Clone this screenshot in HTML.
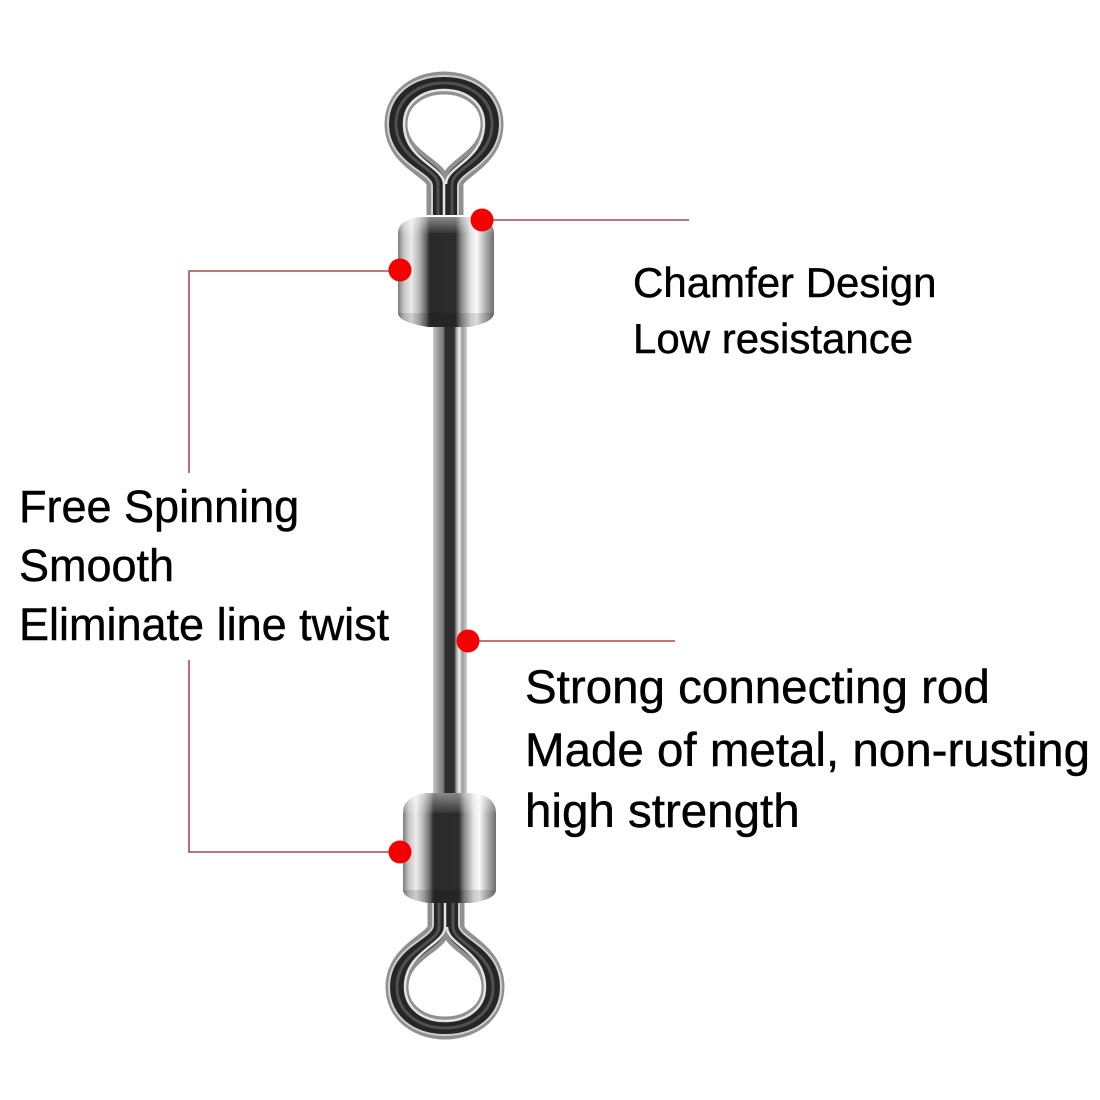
<!DOCTYPE html>
<html><head><meta charset="utf-8"><style>
html,body{margin:0;padding:0;background:#fff;}
svg{display:block;}
text{font-family:"Liberation Sans",Arial,sans-serif;fill:#000;stroke:#000;stroke-width:0.45;}
</style></head><body>
<svg width="1100" height="1100" viewBox="0 0 1100 1100" xmlns="http://www.w3.org/2000/svg">
<defs>
<linearGradient id="barrel" x1="0" y1="0" x2="1" y2="0">
<stop offset="0" stop-color="#7c7c7c"/>
<stop offset="0.06" stop-color="#c4c4c4"/>
<stop offset="0.14" stop-color="#ececec"/>
<stop offset="0.22" stop-color="#b4b4b4"/>
<stop offset="0.29" stop-color="#6a6a6a"/>
<stop offset="0.33" stop-color="#2a2a2a"/>
<stop offset="0.60" stop-color="#2c2c2c"/>
<stop offset="0.66" stop-color="#8a8a8a"/>
<stop offset="0.76" stop-color="#e6e6e6"/>
<stop offset="0.82" stop-color="#fafafa"/>
<stop offset="0.90" stop-color="#b8b8b8"/>
<stop offset="1" stop-color="#6e6e6e"/>
</linearGradient>
<linearGradient id="rod" x1="0" y1="0" x2="1" y2="0">
<stop offset="0" stop-color="#c8c8c8"/>
<stop offset="0.15" stop-color="#9a9a9a"/>
<stop offset="0.3" stop-color="#7a7a7a"/>
<stop offset="0.36" stop-color="#2e2e2e"/>
<stop offset="0.62" stop-color="#2e2e2e"/>
<stop offset="0.70" stop-color="#b0b0b0"/>
<stop offset="0.78" stop-color="#f0f0f0"/>
<stop offset="0.86" stop-color="#9a9a9a"/>
<stop offset="1" stop-color="#d0d0d0"/>
</linearGradient>
<linearGradient id="chamT" x1="0" y1="0" x2="0" y2="1">
<stop offset="0" stop-color="#fff" stop-opacity="0.45"/>
<stop offset="1" stop-color="#fff" stop-opacity="0.05"/>
</linearGradient>
<g id="loop">
<path d="M438 215 L438 184 C438 168 396 160 396 124 C396 98 419 83 444 83 C469 83 492 98 492 124 C492 160 452 168 452 184 L452 215" fill="none" stroke="#909090" stroke-width="23" stroke-linejoin="round"/>
<path d="M438 215 L438 184 C438 168 396 160 396 124 C396 98 419 83 444 83 C469 83 492 98 492 124 C492 160 452 168 452 184 L452 215" fill="none" stroke="#262626" stroke-width="14" stroke-linejoin="round"/>
<path d="M438 215 L438 184 C438 168 396 160 396 124 C396 98 419 83 444 83 C469 83 492 98 492 124 C492 160 452 168 452 184 L452 215" fill="none" stroke="#505050" stroke-width="3" stroke-linejoin="round"/>
<path d="M432 215 L432 186 C432 172 388 164 388 124 C388 94 413 76 444 76 C475 76 500 94 500 124 C500 164 458 172 458 186 L458 215" fill="none" stroke="#cfcfcf" stroke-width="2"/>
<path d="M444 215 L444 184 C444 166 404 160 404 124 C404 102 423 90 444 90 C465 90 484 102 484 124 C484 160 446 166 446 184" fill="none" stroke="#e4e4e4" stroke-width="2.5"/>
</g>
</defs>

<!-- rod -->
<rect x="433" y="318" width="34" height="486" fill="url(#rod)"/>

<!-- top loop -->
<use href="#loop"/>
<!-- top barrel -->
<path d="M420 217 L474 217 Q494 220 494 233 L494 313 Q494 322 470 327 L428 327 Q398 322 398 313 L398 233 Q398 220 420 217 Z" fill="url(#barrel)"/>
<path d="M420 217 L474 217 Q494 220 494 233 L398 233 Q398 220 420 217 Z" fill="url(#chamT)"/>
<path d="M398 313 L494 313 Q494 322 470 327 L428 327 Q398 322 398 313 Z" fill="#000" fill-opacity="0.12"/>

<!-- bottom loop (flipped) -->
<g transform="translate(1 1111) scale(1 -1)"><use href="#loop"/></g>
<!-- bottom barrel -->
<path d="M425 793 L475 793 Q496 797 496 813 L496 890 Q496 899 472 903 L428 903 Q403 899 403 890 L403 813 Q403 797 425 793 Z" fill="url(#barrel)"/>
<path d="M425 793 L475 793 Q496 797 496 813 L403 813 Q403 797 425 793 Z" fill="url(#chamT)"/>
<path d="M403 890 L496 890 Q496 899 472 903 L428 903 Q403 899 403 890 Z" fill="#000" fill-opacity="0.12"/>

<!-- connectors -->
<g stroke="#b4454a" stroke-width="1.6" fill="none">
<path d="M482 220 L689 220"/>
<path d="M400 271 L189 271 L189 473"/>
<path d="M468 641 L675 641"/>
<path d="M189 660 L189 852 L400 852"/>
</g>
<g fill="#f40000">
<circle cx="482" cy="220" r="11.5"/>
<circle cx="400" cy="270" r="11.5"/>
<circle cx="468" cy="641" r="11.5"/>
<circle cx="400" cy="852" r="11.5"/>
</g>

<!-- labels -->
<text x="633" y="297" font-size="42">Chamfer Design</text>
<text x="633" y="353" font-size="42">Low resistance</text>

<text x="19" y="522" font-size="45">Free Spinning</text>
<text x="19" y="581" font-size="45">Smooth</text>
<text x="19" y="640" font-size="45">Eliminate line twist</text>

<text x="525" y="703" font-size="47.5">Strong connecting rod</text>
<text x="525" y="766" font-size="47.5">Made of metal, non-rusting</text>
<text x="525" y="827" font-size="47.5">high strength</text>
</svg>
</body></html>
